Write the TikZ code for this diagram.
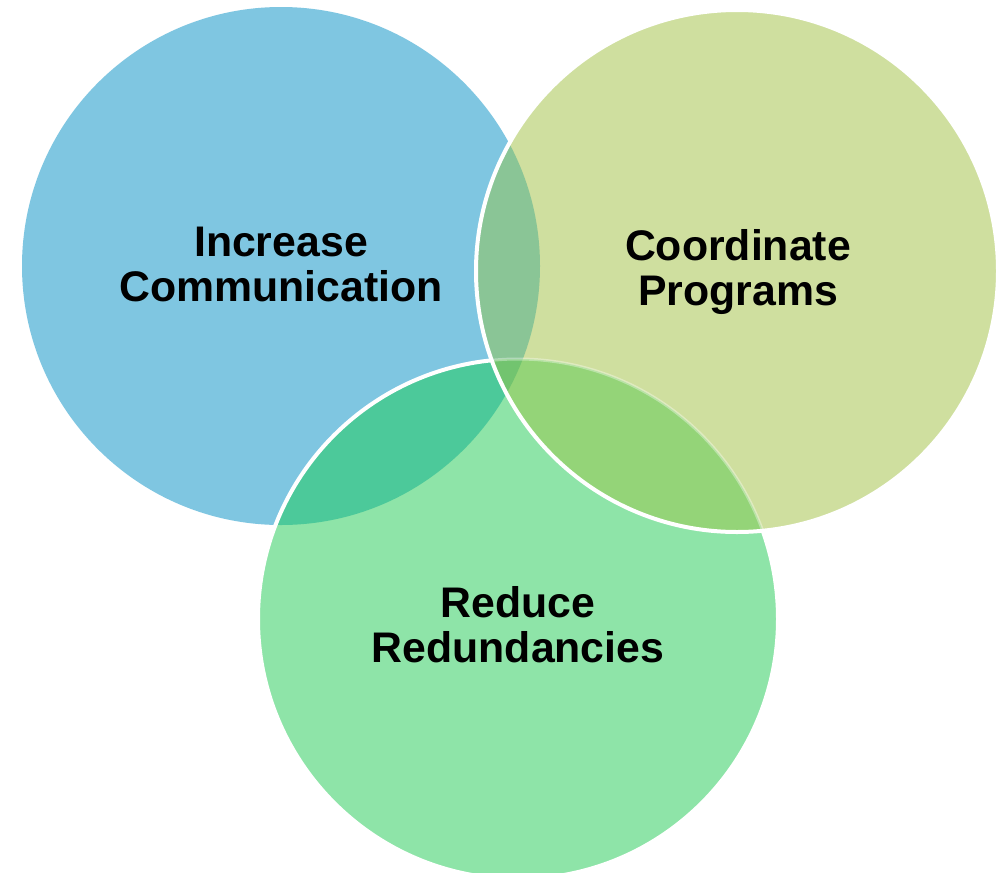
\documentclass[tikz,border=0pt]{standalone}
\usepackage{fontspec}
\setmainfont{Liberation Sans}
\begin{document}
\begin{tikzpicture}[x=1pt,y=-1pt,
  label/.style={font=\fontsize{42.8}{44.5}\selectfont\bfseries, align=center, inner sep=0pt, anchor=base},
  rim/.style={draw=white, line width=4pt}]
\definecolor{cblue}{HTML}{7FC6E1}
\definecolor{cyel}{HTML}{CFDF9F}
\definecolor{cgreen}{HTML}{8EE4A8}
\definecolor{cbg}{HTML}{4CC99A}
\definecolor{cgy}{HTML}{94D478}
\definecolor{cby}{HTML}{8AC596}
\definecolor{cbgy}{HTML}{72C46F}
\useasboundingbox (0,0) rectangle (999,873);
\fill[white] (0,0) rectangle (999,873);
\def\cb{(281,266) circle[radius=259]}
\def\cy{(737,271) circle[radius=261]}
\def\cg{(518,619) circle[radius=260]}
% base discs
\fill[cblue] \cb;
\fill[cgreen] \cg;
\begin{scope}\clip \cb; \fill[cbg] \cg; \end{scope}
\draw[rim] \cg;
\fill[cyel] \cy;
% overlaps with the right disc
\begin{scope}\clip \cy;
  \fill[cby] \cb;
  \fill[cgy] \cg;
  \begin{scope}\clip \cb; \fill[cbgy] \cg; \end{scope}
  \draw[white, opacity=0.35, line width=3pt] \cg;
\end{scope}
\draw[rim] \cy;
% labels (anchored at the baseline of the lower line)
\node[label] (comm) at (281,301) {Increase\\Communication};
\node[label] (prog) at (738,305) {Coordinate\\Programs};
\node[label] (red) at (518,662) {Reduce\\Redundancies};
\end{tikzpicture}
\end{document}
